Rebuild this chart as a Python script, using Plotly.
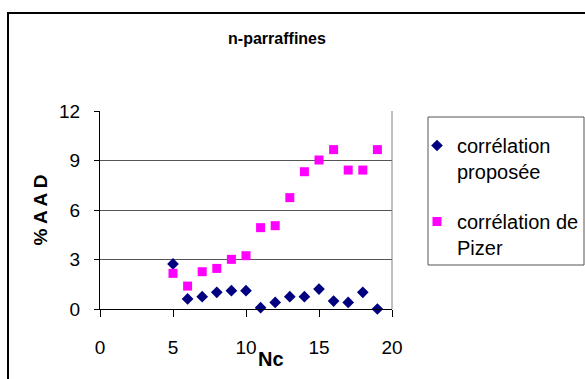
import plotly.graph_objects as go

nc = [5, 6, 7, 8, 9, 10, 11, 12, 13, 14, 15, 16, 17, 18, 19]
aad_proposee = [2.73, 0.61, 0.75, 1.01, 1.11, 1.11, 0.08, 0.40, 0.75, 0.75, 1.21, 0.48, 0.40, 1.01, 0.0]
aad_pizer = [2.16, 1.39, 2.26, 2.46, 3.01, 3.23, 4.93, 5.05, 6.75, 8.32, 9.03, 9.66, 8.42, 8.42, 9.66]
x_ticks = [0, 5, 10, 15, 20]
y_ticks = [0, 3, 6, 9, 12]
series_names = ["corrélation<br>proposée", "corrélation de<br>Pizer"]

FONT = "Liberation Sans, Arial, sans-serif"

fig = go.Figure()
fig.add_trace(go.Scatter(
    x=nc, y=aad_proposee, mode="markers", name=series_names[0], legendgroup="a",
    marker=dict(symbol="diamond", size=9, color="#000080", line=dict(width=0)),
    cliponaxis=False,
))
fig.add_trace(go.Scatter(
    x=nc, y=aad_pizer, mode="markers", name=series_names[1], legendgroup="b",
    marker=dict(symbol="square", size=9, color="#FF00FF", line=dict(width=0)),
    cliponaxis=False,
))

W, H = 585, 379
L, R, T, B = 100, 392, 111, 309
pw, ph = R - L, B - T

def px(x):
    return (x - L) / pw

def py(y):
    return (B - y) / ph

fig.update_layout(
    width=W, height=H,
    margin=dict(l=L, r=W - R, t=T, b=H - B, autoexpand=False),
    paper_bgcolor="white", plot_bgcolor="white",
    font=dict(family=FONT, size=19, color="black"),
    title=dict(text="<b>n-parraffines</b>", font=dict(family=FONT, size=16, color="black"),
               x=px(277), xref="paper", xanchor="center",
               y=1 - 38 / H, yref="container", yanchor="middle"),
    showlegend=True,
    legend=dict(
        x=px(417), y=py(126), xref="paper", yref="paper", xanchor="left", yanchor="top",
        bgcolor="rgba(0,0,0,0)", borderwidth=0,
        font=dict(family=FONT, size=20, color="black"),
        traceorder="grouped", tracegroupgap=21, valign="top",
        itemsizing="trace",
    ),
    xaxis=dict(
        range=[0, 20], tickvals=x_ticks, ticks="outside", ticklen=7, tickcolor="black",
        showline=True, linecolor="black", linewidth=1, showgrid=False, zeroline=False,
        tickfont=dict(family=FONT, size=19), ticklabelstandoff=14,
    ),
    yaxis=dict(
        range=[0, 12], tickvals=y_ticks, ticks="outside", ticklen=5, tickcolor="black",
        showline=True, linecolor="black", linewidth=1, showgrid=True, gridcolor="#555555",
        gridwidth=1, zeroline=False,
        tickfont=dict(family=FONT, size=19), ticklabelstandoff=10,
        title=dict(text="<b>% A A D</b>", font=dict(family=FONT, size=19), standoff=6),
    ),
    annotations=[
        dict(text="<b>Nc</b>", x=px(271), y=py(359), xref="paper", yref="paper",
             xanchor="center", yanchor="middle", showarrow=False,
             font=dict(family=FONT, size=20, color="black")),
    ],
    shapes=[
        # plot area right border
        dict(type="line", xref="paper", yref="paper", x0=1, x1=1, y0=0, y1=1,
             line=dict(color="#808080", width=1)),
        # legend box
        dict(type="rect", xref="paper", yref="paper", x0=px(428), x1=px(584), y0=py(265), y1=py(117),
             line=dict(color="#555555", width=1)),
        # outer chart border
        dict(type="rect", xref="paper", yref="paper", x0=px(8), x1=px(600), y0=py(395), y1=py(13),
             line=dict(color="black", width=2)),
    ],
)

fig.write_html("out.html", config={"displayModeBar": False},
               post_script="document.body.style.margin='0';")
